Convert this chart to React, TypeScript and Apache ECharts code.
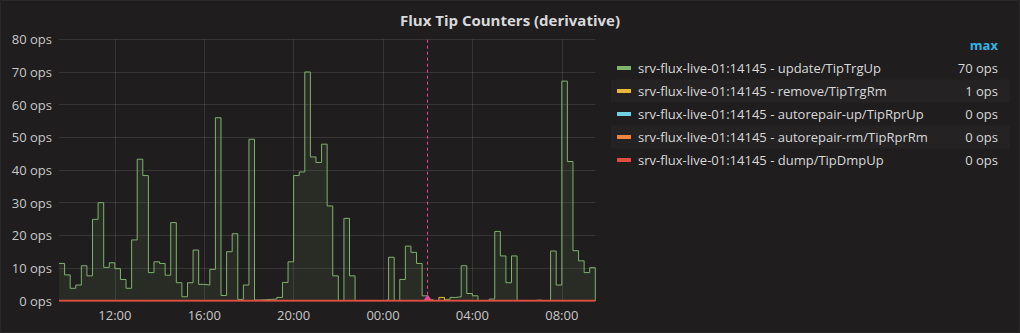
import React, { useEffect, useRef } from "react";
import * as echarts from "echarts";

// ---- data ----
const START_HOUR = 9.5; // 09:30, first sample
const STEP_HOURS = 0.25; // 15-minute samples

const seriesNames = [
  "srv-flux-live-01:14145 - update/TipTrgUp",
  "srv-flux-live-01:14145 - remove/TipTrgRm",
  "srv-flux-live-01:14145 - autorepair-up/TipRprUp",
  "srv-flux-live-01:14145 - autorepair-rm/TipRprRm",
  "srv-flux-live-01:14145 - dump/TipDmpUp",
];
const seriesColors = ["#7EB26D", "#EAB839", "#6ED0E0", "#EF843C", "#E24D42"];

const updateOps = [
  11.4, 7.9, 3.8, 4.8, 10.7, 7.6, 24.9, 30, 10.2, 11.6,
  9.8, 6.5, 3.8, 18.6, 43.3, 38.3, 8.6, 11.9, 11.4, 7.8,
  23.9, 5.5, 1.2, 5.5, 15.5, 5, 4.8, 9.6, 56, 1.6,
  15, 20.5, 0.4, 4.8, 49.4, 0.2, 0.3, 0.4, 0.5, 1.0,
  5.6, 11.9, 38.3, 39.4, 70, 44, 42.3, 47.9, 29, 7.6,
  0, 25.2, 7.6, 0, 0, 0, 0, 0, 0.2, 13.3,
  0, 6.5, 16.7, 14.8, 11.4, 1.5, 0.3, 0, 0, 0.4,
  1, 1.2, 10.7, 2.2, 1.5, 0, 0, 0.5, 21.2, 13.7,
  5.5, 13.7, 0, 0, 0, 0.2, 0, 0, 15.2, 4.8,
  67.2, 42.6, 15.3, 12.2, 8.6, 10.1, 0,
];
const removeOps = [
  0, 0, 0, 0, 0, 0, 0, 0, 0, 0,
  0, 0, 0, 0, 0, 0, 0, 0, 0, 0,
  0, 0, 0, 0, 0, 0, 0, 0, 0, 0,
  0, 0, 0, 0, 0, 0, 0, 0, 0, 0,
  0, 0, 0, 0, 0, 0, 0, 0, 0, 0,
  0, 0, 0, 0, 0, 0, 0, 0, 0, 0,
  0, 0, 0, 0, 0, 0, 0, 0, 1, 0,
  0, 0, 0, 0, 0, 0, 0, 0, 0, 0,
  0, 0, 0, 0, 0, 0, 0, 0, 0, 0,
  0, 0, 0, 0, 0, 0, 0,
];
const autorepairUpOps = [
  0, 0, 0, 0, 0, 0, 0, 0, 0, 0,
  0, 0, 0, 0, 0, 0, 0, 0, 0, 0,
  0, 0, 0, 0, 0, 0, 0, 0, 0, 0,
  0, 0, 0, 0, 0, 0, 0, 0, 0, 0,
  0, 0, 0, 0, 0, 0, 0, 0, 0, 0,
  0, 0, 0, 0, 0, 0, 0, 0, 0, 0,
  0, 0, 0, 0, 0, 0, 0, 0, 0, 0,
  0, 0, 0, 0, 0, 0, 0, 0, 0, 0,
  0, 0, 0, 0, 0, 0, 0, 0, 0, 0,
  0, 0, 0, 0, 0, 0, 0,
];
const autorepairRmOps = [
  0, 0, 0, 0, 0, 0, 0, 0, 0, 0,
  0, 0, 0, 0, 0, 0, 0, 0, 0, 0,
  0, 0, 0, 0, 0, 0, 0, 0, 0, 0,
  0, 0, 0, 0, 0, 0, 0, 0, 0, 0,
  0, 0, 0, 0, 0, 0, 0, 0, 0, 0,
  0, 0, 0, 0, 0, 0, 0, 0, 0, 0,
  0, 0, 0, 0, 0, 0, 0, 0, 0, 0,
  0, 0, 0, 0, 0, 0, 0, 0, 0, 0,
  0, 0, 0, 0, 0, 0, 0, 0, 0, 0,
  0, 0, 0, 0, 0, 0, 0,
];
const dumpOps = [
  0, 0, 0, 0, 0, 0, 0, 0, 0, 0,
  0, 0, 0, 0, 0, 0, 0, 0, 0, 0,
  0, 0, 0, 0, 0, 0, 0, 0, 0, 0,
  0, 0, 0, 0, 0, 0, 0, 0, 0, 0,
  0, 0, 0, 0, 0, 0, 0, 0, 0, 0,
  0, 0, 0, 0, 0, 0, 0, 0, 0, 0,
  0, 0, 0, 0, 0, 0, 0, 0, 0, 0,
  0, 0, 0, 0, 0, 0, 0, 0, 0, 0,
  0, 0, 0, 0, 0, 0, 0, 0, 0, 0,
  0, 0, 0, 0, 0, 0, 0,
];

const xMin = 9.5; // 09:30
const xMax = 33.5; // 09:30 next day
const xTickHours = [12, 16, 20, 24, 28, 32];
const xTickLabels = ["12:00", "16:00", "20:00", "00:00", "04:00", "08:00"];
const yTicks = [0, 10, 20, 30, 40, 50, 60, 70, 80];
const annotationHour = 26; // 02:00

const title = "Flux Tip Counters (derivative)";

const FONT = '"Open Sans", "Noto Sans", sans-serif';
const TEXT = "#d8d9da";
const GRIDLINE = "rgba(255,255,255,0.11)";
const ANNOTATION = "#E8479F";

export default function App() {
  const ref = useRef<HTMLDivElement>(null);

  useEffect(() => {
    if (!ref.current) return;
    const chart = echarts.init(ref.current, undefined, { renderer: "svg" });

    const allValues = [updateOps, removeOps, autorepairUpOps, autorepairRmOps, dumpOps];
    const toPairs = (vals: number[]) =>
      vals.map((v, i) => [START_HOUR + i * STEP_HOURS, v]);

    const series: any[] = allValues.map((vals, k) => ({
      type: "line",
      name: seriesNames[k],
      step: "end",
      data: toPairs(vals),
      showSymbol: false,
      symbol: "none",
      z: 2 + k,
      lineStyle: { color: seriesColors[k], width: k === 4 ? 2 : 1 },
      itemStyle: { color: seriesColors[k] },
      areaStyle: { color: seriesColors[k], opacity: 0.1 },
      emphasis: { disabled: true },
    }));

    series[0].markLine = {
      silent: true,
      symbol: "none",
      label: { show: false },
      lineStyle: { color: ANNOTATION, type: [3, 3], width: 1, opacity: 1 },
      data: [{ xAxis: annotationHour }],
    };
    series[0].markPoint = {
      silent: true,
      symbol: "triangle",
      symbolSize: [9, 6],
      symbolOffset: [0, -3],
      itemStyle: { color: ANNOTATION },
      label: { show: false },
      data: [{ coord: [annotationHour, 0] }],
    };

    const maxLabels = allValues.map((vals) => `${Math.round(Math.max(...vals))} ops`);
    const rowYs = [68, 91, 114, 137, 160];
    const legendGraphics: any[] = [];
    rowYs.forEach((y, k) => {
      if (k % 2 === 1) {
        legendGraphics.push({
          type: "rect",
          shape: { x: 611, y: y - 11.5, width: 399, height: 23 },
          style: { fill: "#242222" },
          silent: true,
        });
      }
      legendGraphics.push({
        type: "rect",
        shape: { x: 617, y: y - 2, width: 14, height: 4 },
        style: { fill: seriesColors[k] },
        silent: true,
      });
      legendGraphics.push({
        type: "text",
        x: 638,
        y: y,
        style: {
          text: seriesNames[k],
          fill: TEXT,
          font: `13px ${FONT}`,
          textAlign: "left",
          textVerticalAlign: "middle",
        },
        silent: true,
      });
      legendGraphics.push({
        type: "text",
        x: 998,
        y: y,
        style: {
          text: maxLabels[k],
          fill: TEXT,
          font: `13px ${FONT}`,
          textAlign: "right",
          textVerticalAlign: "middle",
        },
        silent: true,
      });
    });

    chart.setOption({
      animation: false,
      backgroundColor: "#1f1d1d",
      textStyle: { fontFamily: FONT },
      title: {
        text: title,
        left: "center",
        top: 7,
        textStyle: { color: TEXT, fontSize: 15, fontWeight: "bold", fontFamily: FONT },
      },
      grid: { left: 59, right: 424.7, top: 39.3, bottom: 32.3 },
      xAxis: {
        type: "value",
        min: xMin,
        max: xMax,
        axisLine: { show: false },
        axisTick: { show: false, customValues: xTickHours },
        splitLine: { show: true, lineStyle: { color: GRIDLINE, width: 1 } },
        axisLabel: {
          customValues: xTickHours,
          color: "#c8c8c8",
          fontSize: 13,
          fontFamily: FONT,
          margin: 8,
          formatter: (v: number) => {
            const idx = xTickHours.indexOf(v);
            return idx >= 0 ? xTickLabels[idx] : "";
          },
        },
      },
      yAxis: {
        type: "value",
        min: yTicks[0],
        max: yTicks[yTicks.length - 1],
        interval: 10,
        axisLine: { show: false },
        axisTick: { show: false },
        splitLine: { show: true, lineStyle: { color: GRIDLINE, width: 1 } },
        axisLabel: {
          color: "#c8c8c8",
          fontSize: 13,
          fontFamily: FONT,
          margin: 7,
          formatter: (v: number) => `${v} ops`,
        },
      },
      series,
      graphic: [
        {
          type: "rect",
          shape: { x: 0.5, y: 0.5, width: 1019, height: 332 },
          style: { fill: "none", stroke: "#292929", lineWidth: 1 },
          silent: true,
          z: 100,
        },
        {
          type: "text",
          x: 998,
          y: 45,
          style: {
            text: "max",
            fill: "#33b5e5",
            font: `bold 13px ${FONT}`,
            textAlign: "right",
            textVerticalAlign: "middle",
          },
          silent: true,
        },
        ...legendGraphics,
      ],
    });

    return () => chart.dispose();
  }, []);

  return (
    <div
      ref={ref}
      style={{ position: "fixed", left: 0, top: 0, width: 1020, height: 333 }}
    />
  );
}
